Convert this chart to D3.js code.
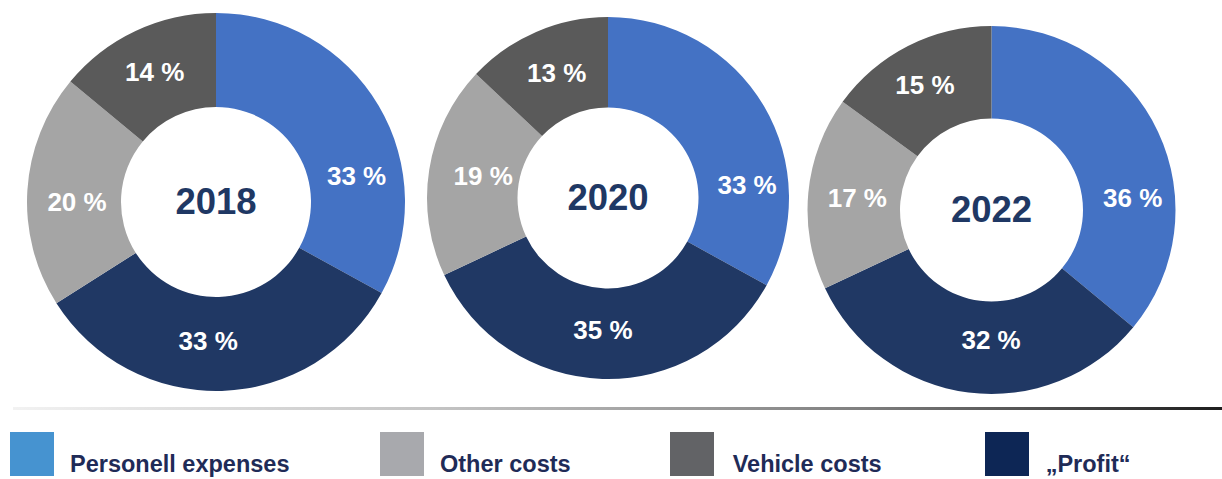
<!DOCTYPE html>
<html>
<head>
<meta charset="utf-8">
<script src="https://cdn.jsdelivr.net/npm/d3@7"></script>
<style>
  html, body { margin: 0; padding: 0; background: #ffffff; }
  svg { display: block; }
  text { font-family: "Liberation Sans", Arial, sans-serif; font-weight: bold; }
</style>
</head>
<body>
<svg id="chart" width="1222" height="479"></svg>
<script>
// Cost categories, in clockwise order from 12 o'clock
const categories = ["Personell expenses", "\u201EProfit\u201C", "Other costs", "Vehicle costs"];
const years = ["2018", "2020", "2022"];

// Share of each category (%) per year, same order as categories
const shares2018 = [33, 33, 20, 14];
const shares2020 = [33, 35, 19, 13];
const shares2022 = [36, 32, 17, 15];

// Legend order as shown along the bottom
const legendLabels = ["Personell expenses", "Other costs", "Vehicle costs", "\u201EProfit\u201C"];

// Ring fills and legend swatch fills
const ringColors = ["#4472c4", "#203864", "#a5a5a5", "#5a5a5a"];
const legendColors = ["#4693d0", "#a8a9ad", "#626366", "#0d2655"];

const svg = d3.select("#chart");

// Ring placement: centre, radii, and per-slice label nudges [degrees, px]
const rings = [
  { cx: 216, cy: 202, r: 189, r0: 95,
    nudge: [[20, 1], [5, -3], [-3.6, -3], [0, 2]] },
  { cx: 608, cy: 198, r: 181, r0: 90.5,
    nudge: [[25, 4], [0.4, -4], [1, -9], [1.2, 0]] },
  { cx: 991.5, cy: 210, r: 184, r0: 91.5,
    nudge: [[20, 4], [-7, -8], [0, -3], [-1, 4]] }
];

const color = d3.scaleOrdinal().domain(categories).range(ringColors);
const pie = d3.pie().sort(null).value(d => d.value);

const seriesByYear = [shares2018, shares2020, shares2022];

seriesByYear.forEach((vals, yi) => {
  const ring = rings[yi];
  const data = categories.map((c, i) => ({ cat: c, value: vals[i] }));
  const arcs = pie(data);
  const arc = d3.arc().innerRadius(ring.r0).outerRadius(ring.r);
  const mid = (ring.r + ring.r0) / 2;

  const g = svg.append("g").attr("transform", `translate(${ring.cx},${ring.cy})`);

  g.selectAll("path")
    .data(arcs)
    .join("path")
    .attr("d", arc)
    .attr("fill", d => color(d.data.cat));

  const labelPos = (d, i) => {
    const a = (d.startAngle + d.endAngle) / 2 + ring.nudge[i][0] * Math.PI / 180;
    const rr = mid + ring.nudge[i][1];
    return [Math.sin(a) * rr, -Math.cos(a) * rr];
  };

  // Percentage labels
  g.selectAll("text.pct")
    .data(arcs)
    .join("text")
    .attr("class", "pct")
    .attr("x", (d, i) => labelPos(d, i)[0])
    .attr("y", (d, i) => labelPos(d, i)[1])
    .attr("dy", "0.36em")
    .attr("text-anchor", "middle")
    .attr("fill", "#ffffff")
    .attr("font-size", 26)
    .text(d => `${d.data.value} %`);

  // Year in the hole
  g.append("text")
    .attr("x", 0)
    .attr("y", 0)
    .attr("dy", "0.32em")
    .attr("text-anchor", "middle")
    .attr("fill", "#1f3864")
    .attr("font-size", 36.5)
    .text(years[yi]);
});

// Separator rule above the legend, fading in from the left
const defs = svg.append("defs");
const grad = defs.append("linearGradient")
  .attr("id", "rule")
  .attr("x1", "0%").attr("x2", "100%").attr("y1", "0%").attr("y2", "0%");
grad.append("stop").attr("offset", "0%").attr("stop-color", "#f2f2f2");
grad.append("stop").attr("offset", "35%").attr("stop-color", "#c4c4c4");
grad.append("stop").attr("offset", "70%").attr("stop-color", "#808080");
grad.append("stop").attr("offset", "100%").attr("stop-color", "#1e1e1e");

svg.append("rect")
  .attr("x", 13).attr("y", 407)
  .attr("width", 1222 - 13).attr("height", 3)
  .attr("fill", "url(#rule)");

// Legend: swatch left edges and label offsets
const legendLeft = [10, 380, 670, 985];
const legendTextOffset = [60, 60, 62.7, 60.7];

const items = svg.append("g").selectAll("g")
  .data(legendLabels)
  .join("g")
  .attr("transform", (d, i) => `translate(${legendLeft[i]},432)`);

items.append("rect")
  .attr("width", 44).attr("height", 44)
  .attr("fill", (d, i) => legendColors[i]);

items.append("text")
  .attr("x", (d, i) => legendTextOffset[i])
  .attr("y", 39.5)
  .attr("fill", "#1f2b57")
  .attr("font-size", 23.5)
  .text(d => d);
</script>
</body>
</html>
